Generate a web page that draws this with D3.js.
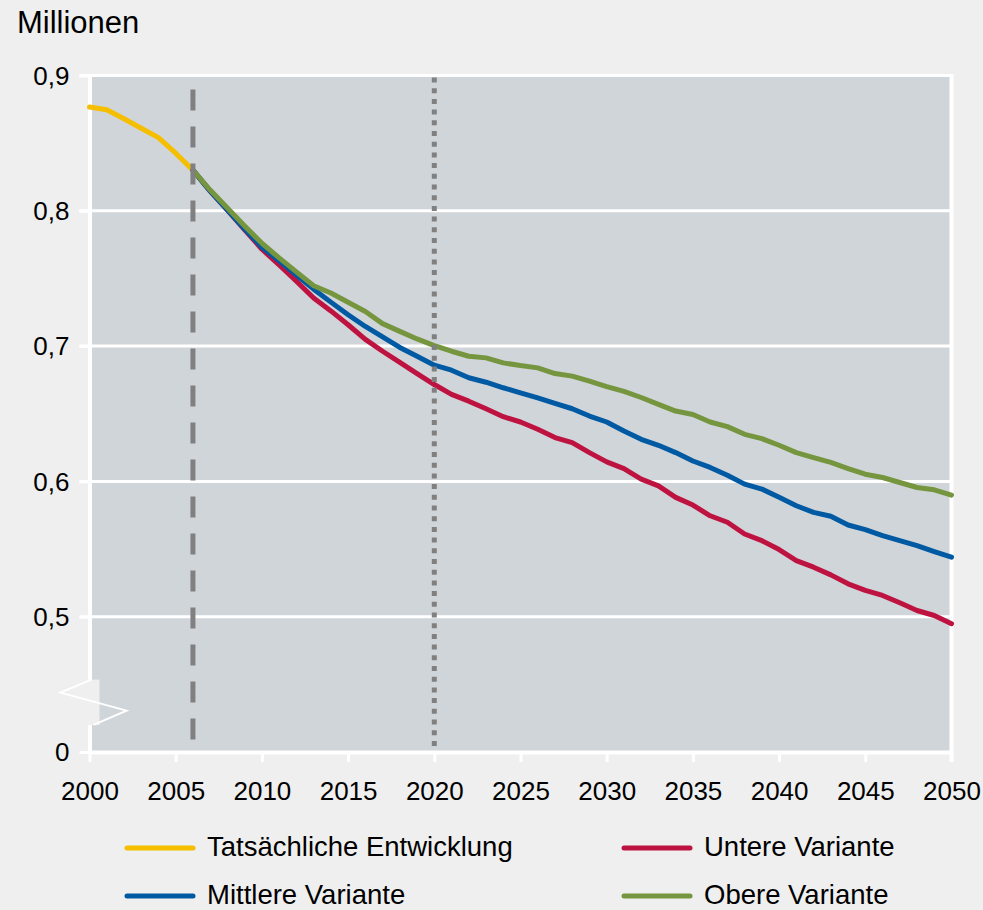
<!DOCTYPE html>
<html>
<head>
<meta charset="utf-8">
<script src="https://cdn.jsdelivr.net/npm/d3@7"></script>
<style>
  html, body { margin: 0; padding: 0; background: #eeefee; }
  svg { display: block; font-family: "Liberation Sans", Arial, sans-serif; }
</style>
</head>
<body>
<svg id="chart" width="983" height="910"></svg>
<script>
// ---- data ----
const histYears = [2000, 2001, 2002, 2003, 2004, 2005, 2006];
const histValues = [0.8767, 0.8747, 0.868, 0.861, 0.8541, 0.8426, 0.830];

const projYears = d3.range(2006, 2051);
const lowerValues = [0.830, 0.8145, 0.8005, 0.786, 0.7716, 0.760, 0.748, 0.7355, 0.726, 0.7158,
  0.705, 0.6962, 0.688, 0.6797, 0.6716, 0.6643, 0.6593, 0.6537, 0.6478, 0.6439,
  0.6385, 0.6324, 0.6287, 0.6213, 0.6144, 0.6095, 0.6017, 0.5967, 0.5882, 0.5825,
  0.5746, 0.5698, 0.5611, 0.5562, 0.5496, 0.5415, 0.5366, 0.5309, 0.5243, 0.5194,
  0.5157, 0.5103, 0.5046, 0.5009, 0.4948];
const middleValues = [0.830, 0.8145, 0.8005, 0.7865, 0.7731, 0.763, 0.7525, 0.7421, 0.7325, 0.7232,
  0.7145, 0.7068, 0.699, 0.6925, 0.6859, 0.6822, 0.6766, 0.6733, 0.6692, 0.6655,
  0.6618, 0.6576, 0.6537, 0.6483, 0.6439, 0.6372, 0.6311, 0.6267, 0.6213, 0.6151,
  0.6103, 0.6046, 0.598, 0.5943, 0.5882, 0.582, 0.5771, 0.5742, 0.5678, 0.5643,
  0.5599, 0.5562, 0.5525, 0.5481, 0.5440];
const upperValues = [0.830, 0.8153, 0.802, 0.7888, 0.776, 0.7652, 0.7549, 0.7446, 0.7392, 0.7324,
  0.7256, 0.7166, 0.7109, 0.7053, 0.7004, 0.6962, 0.6925, 0.6913, 0.6876, 0.6856,
  0.6839, 0.6797, 0.6778, 0.6741, 0.670, 0.6665, 0.662, 0.6569, 0.652, 0.6495,
  0.6439, 0.6405, 0.6348, 0.6316, 0.6267, 0.6213, 0.6176, 0.614, 0.6095, 0.6053,
  0.6029, 0.5992, 0.5955, 0.5938, 0.5899];

const xTicks = [2000, 2005, 2010, 2015, 2020, 2025, 2030, 2035, 2040, 2045, 2050];
const yTicks = [0.4, 0.5, 0.6, 0.7, 0.8, 0.9];
const yTickLabels = ["0", "0,5", "0,6", "0,7", "0,8", "0,9"];
const markerYears = [2006, 2020];
const unitLabel = "Millionen";
const seriesNames = ["Tatsächliche Entwicklung", "Untere Variante", "Mittlere Variante", "Obere Variante"];
const seriesColors = ["#f5bf00", "#be1240", "#0059a3", "#76953f"];

// ---- layout ----
const svg = d3.select("#chart");
const x = d3.scaleLinear().domain([2000, 2050]).range([89.5, 951.5]);
const y = d3.scaleLinear().domain([0.4, 0.9]).range([752, 75.5]);
const pLeft = x(2000), pRight = x(2050), pTop = y(0.9), pBottom = y(0.4);

// plot background
svg.append("rect")
  .attr("x", pLeft).attr("y", pTop)
  .attr("width", pRight - pLeft).attr("height", pBottom - pTop)
  .attr("fill", "#d0d5d9");

// gridlines
svg.append("g").selectAll("line")
  .data(yTicks.slice(1))
  .join("line")
  .attr("x1", pLeft - 10).attr("x2", pRight)
  .attr("y1", d => y(d)).attr("y2", d => y(d))
  .attr("stroke", "#ffffff").attr("stroke-width", 3);

// right frame line
svg.append("line")
  .attr("x1", pRight).attr("x2", pRight)
  .attr("y1", pTop - 1.5).attr("y2", pBottom + 10)
  .attr("stroke", "#ffffff").attr("stroke-width", 4);

// y axis
const yAxis = d3.axisLeft(y).tickValues(yTicks)
  .tickFormat((d, i) => yTickLabels[i]).tickSize(10).tickPadding(10).tickSizeOuter(0);
const gy = svg.append("g").attr("transform", `translate(${pLeft},0)`).call(yAxis);
gy.select(".domain").attr("stroke", "#ffffff").attr("stroke-width", 4);
gy.selectAll(".tick line").attr("stroke", "#ffffff").attr("stroke-width", 3);
gy.selectAll(".tick text").attr("fill", "#000").attr("font-size", 26)
  .attr("font-family", "'Liberation Sans', Arial, sans-serif")
  .attr("dy", "0.34em");

// x axis
const xAxis = d3.axisBottom(x).tickValues(xTicks)
  .tickFormat(d3.format("d")).tickSize(10).tickPadding(20).tickSizeOuter(0);
const gx = svg.append("g").attr("transform", `translate(0,${pBottom})`).call(xAxis);
gx.select(".domain").attr("stroke", "#ffffff").attr("stroke-width", 4);
gx.selectAll(".tick line").attr("stroke", "#ffffff").attr("stroke-width", 3);
gx.selectAll(".tick text").attr("fill", "#000").attr("font-size", 26)
  .attr("font-family", "'Liberation Sans', Arial, sans-serif");

// axis break symbol
const bTop = y(0.4535), bBot = y(0.42);
svg.append("rect")
  .attr("x", pLeft - 4).attr("y", bTop)
  .attr("width", 14).attr("height", bBot - bTop)
  .attr("fill", "#eeefee");
svg.append("polyline")
  .attr("points", [
    [pLeft + 2, bTop], [pLeft - 29, bTop + 13], [pLeft + 37, bTop + 31], [pLeft + 4, bBot]
  ].map(p => p.join(",")).join(" "))
  .attr("fill", "none").attr("stroke", "#ffffff").attr("stroke-width", 2);

// lines
const line = d3.line().x(d => x(d[0])).y(d => y(d[1]));
const series = [
  { years: histYears, values: histValues, color: seriesColors[0] },
  { years: projYears, values: lowerValues, color: seriesColors[1] },
  { years: projYears, values: middleValues, color: seriesColors[2] },
  { years: projYears, values: upperValues, color: seriesColors[3] }
];
svg.append("g").selectAll("path")
  .data(series)
  .join("path")
  .attr("d", s => line(s.years.map((yr, i) => [yr, s.values[i]])))
  .attr("fill", "none")
  .attr("stroke", s => s.color)
  .attr("stroke-width", 5)
  .attr("stroke-linejoin", "round")
  .attr("stroke-linecap", "round");

// vertical marker lines
svg.append("line")
  .attr("x1", x(markerYears[0])).attr("x2", x(markerYears[0]))
  .attr("y1", pTop + 2).attr("y2", pBottom - 2)
  .attr("stroke", "#808080").attr("stroke-width", 5)
  .attr("stroke-dasharray", "21,16").attr("stroke-dashoffset", -12);
svg.append("line")
  .attr("x1", x(markerYears[1])).attr("x2", x(markerYears[1]))
  .attr("y1", pTop + 2).attr("y2", pBottom - 2)
  .attr("stroke", "#808080").attr("stroke-width", 5)
  .attr("stroke-dasharray", "5,5.7");

// unit label
svg.append("text")
  .attr("x", 17).attr("y", 33)
  .attr("font-size", 31).attr("fill", "#000")
  .text(unitLabel);

// legend
const legendItems = [
  { name: seriesNames[0], color: seriesColors[0], lx: 127, ly: 848 },
  { name: seriesNames[1], color: seriesColors[1], lx: 624, ly: 848 },
  { name: seriesNames[2], color: seriesColors[2], lx: 127, ly: 896 },
  { name: seriesNames[3], color: seriesColors[3], lx: 624, ly: 896 }
];
const lg = svg.append("g").selectAll("g").data(legendItems).join("g")
  .attr("transform", d => `translate(${d.lx},${d.ly})`);
lg.append("line")
  .attr("x1", 0).attr("x2", 66).attr("y1", 0).attr("y2", 0)
  .attr("stroke", d => d.color).attr("stroke-width", 5).attr("stroke-linecap", "round");
lg.append("text")
  .attr("x", 80).attr("y", 8)
  .attr("font-size", 27.5).attr("fill", "#000")
  .text(d => d.name);
</script>
</body>
</html>
